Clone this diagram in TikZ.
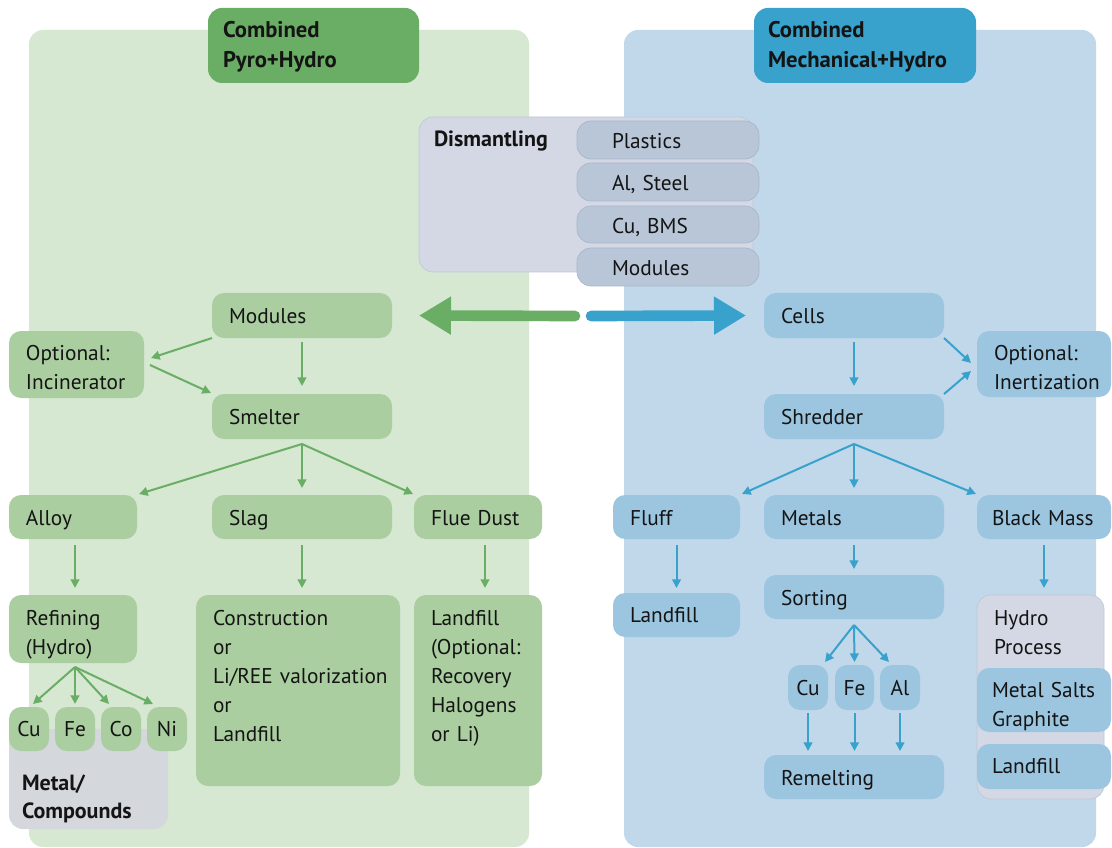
\documentclass[tikz,border=0pt]{standalone}
\usepackage{fontspec}
\setmainfont{PT Sans}
\usetikzlibrary{arrows.meta,calc}
\definecolor{lpan}{HTML}{D6E7D2}
\definecolor{gnd}{HTML}{AACEA0}
\definecolor{gtit}{HTML}{6AAE65}
\definecolor{rpan}{HTML}{C0D8EA}
\definecolor{bnd}{HTML}{9CC6E0}
\definecolor{btit}{HTML}{39A2CC}
\definecolor{hgr}{HTML}{D3D8E4}
\definecolor{hgrd}{HTML}{BFC8D8}
\definecolor{sgr}{HTML}{B9C6D8}
\definecolor{sgrd}{HTML}{A8B6CA}
\definecolor{mgr}{HTML}{D4D7DC}
\definecolor{txt}{HTML}{141414}
\hyphenpenalty=10000
\exhyphenpenalty=10000
\def\bxpad{12.75}
\newcommand\bx[8]{%
  \pgfmathsetmacro\bxw{(#4-#2)*0.75}%
  \pgfmathsetmacro\bxh{(#5-#3)*0.75}%
  \pgfmathsetmacro\bxtw{\bxw-2*\bxpad}%
  \pgfmathsetmacro\bxth{#7*0.75}%
  \pgfmathsetmacro\bxtd{(#5-#3-#7)*0.75}%
  \node[#6, anchor=north west, outer sep=0pt, minimum width=\bxw pt, minimum height=\bxh pt,
        text width=\bxtw pt, text height=\bxth pt, text depth=\bxtd pt,
        inner xsep=\bxpad pt, inner ysep=0pt, align=left] (#1) at (#2,#3) {#8};}
\newcommand\sbx[8]{%
  \pgfmathsetmacro\bxw{(#4-#2)*0.75}%
  \pgfmathsetmacro\bxh{(#5-#3)*0.75}%
  \pgfmathsetmacro\bxth{#7*0.75}%
  \pgfmathsetmacro\bxtd{(#5-#3-#7)*0.75}%
  \node[#6, anchor=north west, outer sep=0pt, minimum width=\bxw pt, minimum height=\bxh pt,
        text height=\bxth pt, text depth=\bxtd pt,
        inner xsep=0pt, inner ysep=0pt, align=center] (#1) at (#2,#3) {#8};}
\begin{document}
\begin{tikzpicture}[x=0.75pt,y=-0.75pt,
  font=\fontsize{16}{21.75}\selectfont, text=txt,
  gn/.style={fill=gnd, rounded corners=9pt},
  bn/.style={fill=bnd, rounded corners=9pt},
  gtitle/.style={fill=gtit, rounded corners=10.5pt, font=\fontsize{17}{22.5}\selectfont\bfseries},
  btitle/.style={fill=btit, rounded corners=10.5pt, font=\fontsize{17}{22.5}\selectfont\bfseries},
  hbox/.style={fill=hgr, draw=hgrd, line width=0.5pt, rounded corners=10.5pt},
  subbox/.style={fill=sgr, draw=sgrd, line width=0.5pt, rounded corners=10.5pt},
  mbox/.style={fill=mgr, rounded corners=10.5pt, font=\fontsize{16.5}{21}\selectfont\bfseries},
  ga/.style={draw=gtit, line width=1.5pt, -{Triangle[length=6.5pt,width=6.5pt]}},
  ba/.style={draw=btit, line width=1.5pt, -{Triangle[length=6.5pt,width=6.5pt]}},
  bigg/.style={draw=gtit, line width=8pt, line cap=round, -{Triangle[length=24pt,width=27pt]}},
  bigb/.style={draw=btit, line width=8pt, line cap=round, -{Triangle[length=24pt,width=27pt]}}
]
\useasboundingbox (0,0) rectangle (1112,848);
\fill[white] (0,0) rectangle (1112,848);
% panels
\fill[lpan, rounded corners=10.5pt] (29,30) rectangle (529,847);
\fill[rpan, rounded corners=10.5pt] (624,30) rectangle (1096,847);
% titles
\def\bxpad{11.25}
\bx{tl}{208}{8}{419}{83}{gtitle}{30}{Combined\\Pyro+Hydro}
\def\bxpad{10.5}
\bx{tr}{754}{8}{976}{83}{btitle}{30}{Combined\\Mechanical+Hydro}
% dismantling
\def\bxpad{11.25}
\bx{dis}{419}{117}{753}{272}{hbox, font=\fontsize{16.5}{21.75}\selectfont\bfseries}{30}{Dismantling}
\def\bxpad{26.25}
\bx{pl}{577}{121}{759}{159}{subbox}{28}{Plastics}
\bx{als}{577}{163}{759}{201}{subbox}{28}{Al,~Steel}
\bx{cub}{577}{206}{759}{243}{subbox}{28}{Cu,~BMS}
\bx{dmod}{577}{248}{759}{286}{subbox}{28}{Modules}
\def\bxpad{12.75}
% left nodes
\bx{mods}{212}{293}{392}{338}{gn}{30}{Modules}
\bx{inc}{9}{331}{144}{398}{gn}{29}{Optional:\\Incinerator}
\bx{smel}{212}{394}{392}{439}{gn}{30}{Smelter}
\bx{alloy}{9}{495}{137}{539}{gn}{30}{Alloy}
\bx{slag}{212}{495}{392}{539}{gn}{30}{Slag}
\bx{flue}{414}{495}{542}{539}{gn}{30}{\mbox{Flue Dust}}
\bx{ref}{9}{595}{137}{663}{gn}{30}{Refining\\(Hydro)}
\bx{cons}{196}{595}{400}{786}{gn}{30}{Construction\\or\\\mbox{Li/REE valorization}\\or\\Landfill}
\bx{lfo}{414}{595}{542}{786}{gn}{30}{Landfill\\(Optional:\\Recovery\\Halogens\\\mbox{or Li)}}
\def\bxpad{9.75}
\bx{metc}{9}{729}{168}{829}{mbox}{61}{Metal/\\Compounds}
\def\bxpad{12.75}
\sbx{cu}{9}{707}{49}{751}{gn}{29}{Cu}
\sbx{fe}{55}{707}{95}{751}{gn}{29}{Fe}
\sbx{co}{101}{707}{141}{751}{gn}{29}{Co}
\sbx{ni}{147}{707}{187}{751}{gn}{29}{Ni}
% right nodes
\bx{cells}{764}{293}{944}{338}{bn}{30}{Cells}
\bx{inert}{977}{331}{1111}{397}{bn}{29}{Optional:\\Inertization}
\bx{shred}{764}{394}{944}{439}{bn}{30}{Shredder}
\bx{fluff}{613}{495}{740}{539}{bn}{30}{Fluff}
\bx{metals}{764}{495}{944}{539}{bn}{30}{Metals}
\def\bxpad{11.25}
\bx{bm}{977}{495}{1111}{539}{bn}{30}{\mbox{Black Mass}}
\def\bxpad{12.75}
\bx{lfb}{613}{593}{740}{637}{bn}{29}{Landfill}
\bx{sort}{764}{575}{944}{619}{bn}{30}{Sorting}
\sbx{bcu}{788}{665}{828}{710}{bn}{30}{Cu}
\sbx{bfe}{835}{665}{874}{710}{bn}{30}{Fe}
\sbx{bal}{880}{665}{920}{710}{bn}{30}{Al}
\bx{rem}{764}{755}{944}{799}{bn}{30}{Remelting}
\bx{hyd}{977}{595}{1104}{799}{hbox}{30}{Hydro\\Process}
\def\bxpad{11.25}
\bx{msg}{977}{668}{1111}{732}{bn}{29}{\mbox{Metal Salts}\\Graphite}
\bx{lfh}{977}{744}{1111}{789}{bn}{29}{Landfill}
% big arrows
\coordinate (gstart) at (575,316);
\coordinate (bstart) at (591,316);
\draw[bigg] (gstart) -- ($(mods.east)+(27,0)$);
\draw[bigb] (bstart) -- ($(cells.west)+(-18,0)$);
% green connectors
\draw[ga] (mods.south west) -- ($(inc.east)+(7,-6.5)$);
\draw[ga] ($(inc.east)+(6,0.5)$) -- ($(smel.north west)+(-1,-1)$);
\draw[ga] ($(mods.south)+(0,4)$) -- ($(smel.north)+(0,-8)$);
\coordinate (sf) at ($(smel.south)+(0,5)$);
\draw[ga] (sf) -- ($(alloy.north east)+(2,-1)$);
\draw[ga] (sf) -- ($(slag.north)+(0,-7)$);
\draw[ga] (sf) -- ($(flue.north west)+(-1,-1)$);
\draw[ga] ($(alloy.south)+(2,6)$) -- ($(ref.north)+(2,-7)$);
\draw[ga, shorten <=4.5pt, shorten >=5.25pt] (slag.south) -- (slag.south |- cons.north);
\draw[ga] ($(flue.south)+(7,6)$) -- ($(lfo.north)+(7,-7)$);
\coordinate (rf) at ($(ref.south)+(2,4)$);
\draw[ga] (rf) -- ($(cu.north)+(4,-3)$);
\draw[ga] (rf) -- ($(fe.north)+(0,-3)$);
\draw[ga] (rf) -- ($(co.north)+(-12,-3)$);
\draw[ga] (rf) -- ($(ni.north)+(-14,-3)$);
% blue connectors
\draw[ba] ($(cells.south)+(0,4)$) -- ($(shred.north)+(0,-8)$);
\draw[ba] (cells.south east) -- ($(inert.west)+(-6,-1)$);
\draw[ba] (shred.north east) -- ($(inert.west)+(-6,7)$);
\coordinate (hf) at ($(shred.south)+(0,5)$);
\draw[ba] (hf) -- ($(fluff.north east)+(2,-1)$);
\draw[ba] (hf) -- ($(metals.north)+(0,-7)$);
\draw[ba] (hf) -- ($(bm.north west)+(-1,-1)$);
\draw[ba] ($(fluff.south)+(0,6)$) -- ($(lfb.north)+(0,-5)$);
\draw[ba] ($(metals.south)+(0,6)$) -- ($(sort.north)+(0,-6)$);
\draw[ba, shorten <=4.5pt, shorten >=5.25pt] (bm.south) -- (bm.south |- hyd.north);
\coordinate (tf) at ($(sort.south)+(0,6)$);
\draw[ba] (tf) -- ($(bcu.north)+(17,-3)$);
\draw[ba] (tf) -- ($(bfe.north)+(0,-3)$);
\draw[ba] (tf) -- ($(bal.north)+(-11,-3)$);
\draw[ba, shorten <=2.25pt, shorten >=3pt] (bcu.south) -- (bcu.south |- rem.north);
\draw[ba, shorten <=2.25pt, shorten >=3pt] (bfe.south) -- (bfe.south |- rem.north);
\draw[ba, shorten <=2.25pt, shorten >=3pt] (bal.south) -- (bal.south |- rem.north);
\end{tikzpicture}
\end{document}
